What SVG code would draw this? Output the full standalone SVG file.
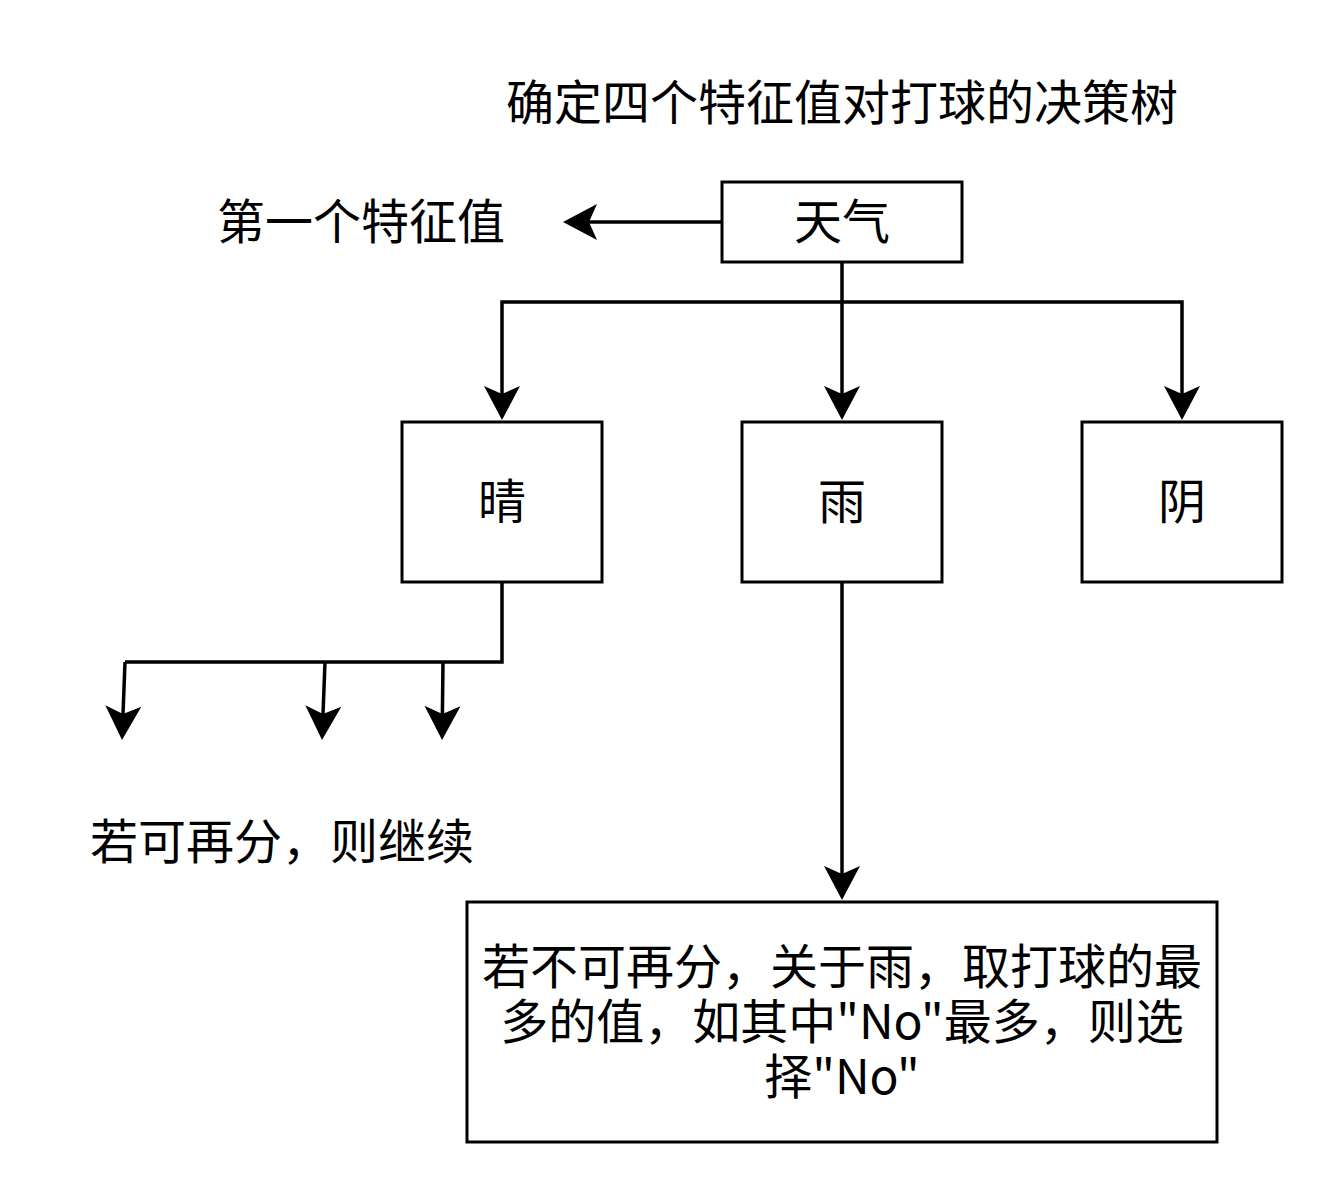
<svg xmlns="http://www.w3.org/2000/svg" width="1324" height="1184" viewBox="0 0 1324 1184">
<style>
text{font-family:"Noto Sans CJK SC","Noto Sans",sans-serif;font-size:48px;fill:#000;text-anchor:middle;dominant-baseline:central}
.box{fill:#fff;stroke:#000;stroke-width:3}
.edge{fill:none;stroke:#000;stroke-width:3.5;stroke-linejoin:miter}
</style>
<defs>
<marker id="arr" markerUnits="userSpaceOnUse" markerWidth="60" markerHeight="60" viewBox="-30 -30 60 60" refX="0" refY="0" orient="auto" overflow="visible">
<path d="M10,0 L-24,-18 L-16,0 L-24,18 Z" fill="#000"/>
</marker>
</defs>
<rect width="1324" height="1184" fill="#fff"/>
<g id="title"><text x="842" y="99">确定四个特征值对打球的决策树</text></g>
<g id="label-first"><text x="361" y="218">第一个特征值</text></g>
<g id="label-continue"><text x="282" y="838">若可再分，则继续</text></g>
<g id="connectors">
<path class="edge" marker-end="url(#arr)" d="M722,222 L573,222"/>
<path class="edge" d="M842,262 L842,302"/>
<path class="edge" marker-end="url(#arr)" d="M842,302 L502,302 L502,410"/>
<path class="edge" marker-end="url(#arr)" d="M842,302 L842,410"/>
<path class="edge" marker-end="url(#arr)" d="M842,302 L1182,302 L1182,410"/>
<path class="edge" d="M502,582 L502,662 L125,662"/>
<path class="edge" marker-end="url(#arr)" d="M125,662 L122.4,730"/>
<path class="edge" marker-end="url(#arr)" d="M325,662 L322.4,730"/>
<path class="edge" marker-end="url(#arr)" d="M443,662 L442.2,730"/>
<path class="edge" marker-end="url(#arr)" d="M842,582 L842,890"/>
</g>
<g id="node-weather"><rect class="box" x="722" y="182" width="240" height="80"/><text x="842" y="218">天气</text></g>
<g id="node-sunny"><rect class="box" x="402" y="422" width="200" height="160"/><text x="502" y="498">晴</text></g>
<g id="node-rain"><rect class="box" x="742" y="422" width="200" height="160"/><text x="842" y="498">雨</text></g>
<g id="node-overcast"><rect class="box" x="1082" y="422" width="200" height="160"/><text x="1182" y="498">阴</text></g>
<g id="node-result"><rect class="box" x="467" y="902" width="750" height="240"/>
<text x="842" y="963">若不可再分，关于雨，取打球的最</text>
<text x="842" y="1018">多的值，如其中"No"最多，则选</text>
<text x="842" y="1073">择"No"</text>
</g>
</svg>
